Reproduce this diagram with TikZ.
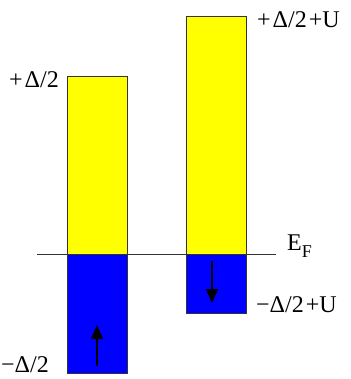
\documentclass[tikz,border=0pt]{standalone}
\usepackage{fontspec}
\setmainfont{Liberation Serif}
\usetikzlibrary{positioning, arrows.meta}
\definecolor{lleno}{HTML}{FFFF00}
\definecolor{vacio}{HTML}{0000FF}
\definecolor{borde}{HTML}{333333}
\tikzset{
  banda/.style={draw=borde, line width=0.8pt, minimum width=60pt, inner sep=0pt, outer sep=0pt},
  etiqueta/.style={inner sep=0pt, font=\fontsize{24}{28}\selectfont},
  espin/.style={line width=2pt, -{Triangle[width=12pt,length=14pt]}}
}
\begin{document}
\begin{tikzpicture}[x=1pt, y=-1pt]
  \useasboundingbox (0,0) rectangle (350,379);
  % bandas
  \node[banda, fill=lleno, minimum height=178pt] (arribaI) at (97,165) {};
  \node[banda, fill=vacio, minimum height=119pt] (abajoI) at (97,313.5) {};
  \node[banda, fill=lleno, minimum height=238pt] (arribaD) at (216,135) {};
  \node[banda, fill=vacio, minimum height=59pt] (abajoD) at (216,283.5) {};
  % nivel de Fermi
  \coordinate (fermiI) at (37,254);
  \coordinate (fermiD) at (276,254);
  \draw[borde, line width=0.8pt] (fermiI) -- (fermiD);
  \node[etiqueta, anchor=west] (ef) at (287,246) {E\raisebox{-0.3em}{\fontsize{18}{20}\selectfont F}};
  % espines
  \coordinate (colaI) at (97,366);
  \coordinate (puntaI) at (97,325);
  \coordinate (colaD) at (212,261);
  \coordinate (puntaD) at (212,303);
  \draw[espin] (colaI) -- (puntaI);
  \draw[espin] (colaD) -- (puntaD);
  % energias
  \node[etiqueta, anchor=east] (masI) at (59,80) {+\kern2pt Δ/2};
  \node[etiqueta, anchor=west] (masD) at (257,20) {+\kern2pt Δ/2\kern2pt+U};
  \node[etiqueta, anchor=west] (menosD) at (256,305) {−Δ/2\kern2pt+U};
  \node[etiqueta, anchor=west] (menosI) at (1,365) {−Δ/2};
\end{tikzpicture}
\end{document}
